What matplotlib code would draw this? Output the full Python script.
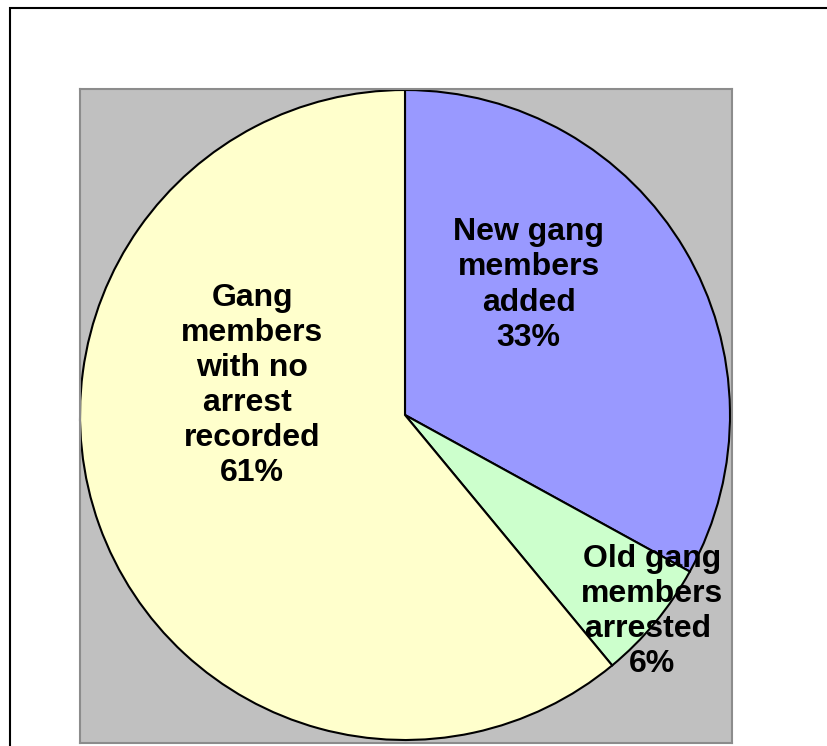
import matplotlib
matplotlib.use("Agg")
import matplotlib.pyplot as plt
from matplotlib.patches import Rectangle

# Slice data (clockwise from 12 o'clock)
categories = ["New gang\nmembers\nadded", "Old gang\nmembers\narrested ", "Gang\nmembers\nwith no\narrest \nrecorded"]
values = [33, 6, 61]
colors = ["#9999FF", "#CCFFCC", "#FFFFCC"]

# Label anchor points in data units (pie radius = 1, centre at origin)
label_pos = [(0.38, 0.40), (0.76, -0.605), (-0.47, 0.09)]

W, H = 827, 746
fig = plt.figure(figsize=(W / 100, H / 100), dpi=100)
fig.patch.set_facecolor("white")

# Outer chart border
fig.add_artist(Rectangle((9.5 / W, -0.1), 2.0, (H - 8) / H + 0.1,
                         transform=fig.transFigure, fill=False,
                         edgecolor="black", linewidth=1.5))

# Plot area
left, right, top, bottom = 80, 732, 89, 743
ax = fig.add_axes([left / W, 1 - bottom / H, (right - left) / W, (bottom - top) / H])
ax.set_facecolor("#C0C0C0")
for sp in ax.spines.values():
    sp.set_edgecolor("#8C8C8C")
    sp.set_linewidth(1.5)

cx, cy, r = 405, 415, 325
ax.pie(values, colors=colors, startangle=90, counterclock=False, radius=1,
       wedgeprops=dict(edgecolor="black", linewidth=1.5))
ax.set_xlim((left - cx) / r, (right - cx) / r)
ax.set_ylim((cy - bottom) / r, (cy - top) / r)
ax.set_aspect("auto")
ax.set_xticks([])
ax.set_yticks([])
ax.set_frame_on(True)

for cat, v, (x, y) in zip(categories, values, label_pos):
    ax.text(x, y, f"{cat}\n{v}%", ha="center", va="center", multialignment="center",
            fontsize=23, fontweight="bold", family="Liberation Sans",
            linespacing=1.22, color="black", clip_on=False)

fig.savefig("out.png", dpi=100)
